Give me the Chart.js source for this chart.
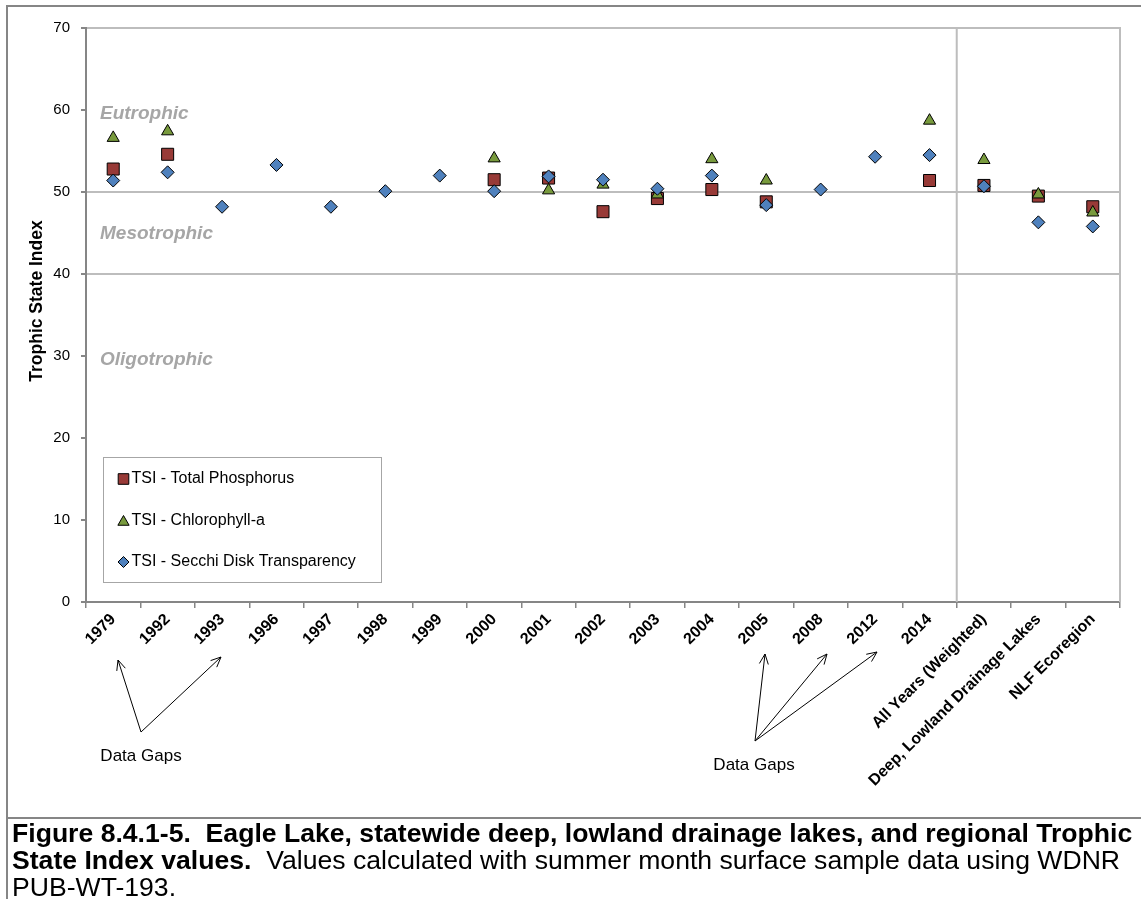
<!DOCTYPE html>
<html>
<head>
<meta charset="utf-8">
<script src="https://cdn.jsdelivr.net/npm/chart.js@4.4.1/dist/chart.umd.min.js"></script>
<style>
  html, body { margin: 0; padding: 0; background: #ffffff; }
  #page { position: relative; width: 1141px; height: 899px; overflow: hidden;
          font-family: "Liberation Sans", Arial, Helvetica, sans-serif; }
  #chart { position: absolute; left: 0; top: 0; }
  .rule { position: absolute; background: #868686; }
  #caption { position: absolute; left: 12px; top: 820px; width: 1129px;
             font-size: 26.6px; line-height: 27px; color: #000; white-space: pre; }
</style>
</head>
<body>
<div id="page">
  <canvas id="chart" width="1141" height="818"></canvas>
  <div class="rule" style="left:6px; top:5px; width:1135px; height:2px;"></div>
  <div class="rule" style="left:6px; top:5px; width:2px; height:894px;"></div>
  <div class="rule" style="left:6px; top:817px; width:1135px; height:2px;"></div>
  <div id="caption"><b>Figure 8.4.1-5.  Eagle Lake, statewide deep, lowland drainage lakes, and regional Trophic</b>
<b>State Index values.</b>  Values calculated with summer month surface sample data using WDNR
PUB-WT-193.</div>
</div>
<script>
// Sampling years plus the three comparison groups
const categories = ['1979', '1992', '1993', '1996', '1997', '1998', '1999', '2000', '2001',
  '2002', '2003', '2004', '2005', '2008', '2012', '2014',
  'All Years (Weighted)', 'Deep, Lowland Drainage Lakes', 'NLF Ecoregion'];

// Trophic State Index values per category (null = not sampled)
const tsiPhosphorus = [52.8, 54.6, null, null, null, null, null, 51.5, 51.7,
  47.6, 49.2, 50.3, 48.8, null, null, 51.4, 50.8, 49.5, 48.2];
const tsiChlorophyll = [56.6, 57.4, null, null, null, null, null, 54.1, 50.2,
  50.9, 49.7, 54.0, 51.4, null, null, 58.7, 53.9, 49.7, 47.5];
const tsiSecchi = [51.4, 52.4, 48.2, 53.3, 48.2, 50.1, 52.0, 50.1, 51.9,
  51.5, 50.4, 52.0, 48.4, 50.3, 54.3, 54.5, 50.7, 46.3, 45.8];

const seriesNames = ['TSI - Total Phosphorus', 'TSI - Chlorophyll-a', 'TSI - Secchi Disk Transparency'];
const yTickValues = [0, 10, 20, 30, 40, 50, 60, 70];
const trophicZones = ['Eutrophic', 'Mesotrophic', 'Oligotrophic'];
const yAxisTitle = 'Trophic State Index';
const gapNote = 'Data Gaps';

const FONT = '"Liberation Sans", Arial, Helvetica, sans-serif';
const COLORS = { tp: '#983A37', chl: '#789A3D', sd: '#4F81BD' };

// Plot borders, the year / summary separator, zone names and the axis title
const backdrop = {
  id: 'backdrop',
  beforeDatasetsDraw(chart) {
    const { ctx, chartArea: a, scales: { x } } = chart;
    const sepX = (x.getPixelForValue(15) + x.getPixelForValue(16)) / 2;
    ctx.save();
    ctx.strokeStyle = '#BDBDBD';
    ctx.lineWidth = 2;
    ctx.beginPath();
    ctx.moveTo(sepX, a.top); ctx.lineTo(sepX, a.bottom);
    ctx.moveTo(a.right, a.top - 1); ctx.lineTo(a.right, a.bottom);
    ctx.stroke();

    ctx.font = 'italic bold 19px ' + FONT;
    ctx.fillStyle = '#A6A6A6';
    ctx.textAlign = 'left';
    ctx.textBaseline = 'alphabetic';
    const ys = [119, 239, 365];
    trophicZones.forEach((t, i) => ctx.fillText(t, a.left + 14, ys[i]));

    ctx.translate(37, 301);
    ctx.rotate(-Math.PI / 2);
    ctx.font = 'bold 17.5px ' + FONT;
    ctx.fillStyle = '#000';
    ctx.textAlign = 'center';
    ctx.textBaseline = 'middle';
    ctx.fillText(yAxisTitle, 0, 0);
    ctx.restore();
  }
};

function arrow(ctx, x0, y0, x1, y1) {
  const ang = Math.atan2(y1 - y0, x1 - x0);
  const h = 11, spread = 0.42;
  ctx.beginPath();
  ctx.moveTo(x0, y0); ctx.lineTo(x1, y1);
  ctx.moveTo(x1 - h * Math.cos(ang - spread), y1 - h * Math.sin(ang - spread));
  ctx.lineTo(x1, y1);
  ctx.lineTo(x1 - h * Math.cos(ang + spread), y1 - h * Math.sin(ang + spread));
  ctx.stroke();
}

// Boxed legend inside the plot and the data-gap call-outs below the axis
const notes = {
  id: 'notes',
  afterDraw(chart) {
    const { ctx, chartArea: a } = chart;
    ctx.save();
    const bx = a.left + 17.5, by = 457.5, bw = 278, bh = 125;
    ctx.strokeStyle = '#A6A6A6';
    ctx.lineWidth = 1;
    ctx.strokeRect(bx, by, bw, bh);
    const styles = ['rect', 'triangle', 'rectRot'];
    const radii = [7.5, 6.5, 5.5];
    const fills = [COLORS.tp, COLORS.chl, COLORS.sd];
    const rowY = [479, 521, 562];
    ctx.font = '16px ' + FONT;
    ctx.textBaseline = 'middle';
    ctx.textAlign = 'left';
    seriesNames.forEach((name, i) => {
      ctx.fillStyle = fills[i];
      ctx.strokeStyle = '#000';
      ctx.lineWidth = 1;
      Chart.helpers.drawPoint(ctx, { pointStyle: styles[i], radius: radii[i], borderWidth: 1, rotation: 0 },
        bx + 20, rowY[i] + (i === 1 ? 1 : 0));
      ctx.fillStyle = '#000';
      ctx.fillText(name, bx + 28, rowY[i]);
    });

    ctx.strokeStyle = '#000';
    ctx.lineWidth = 1;
    arrow(ctx, 141, 732, 118, 660);
    arrow(ctx, 141, 732, 221, 657);
    arrow(ctx, 755, 741, 765, 654);
    arrow(ctx, 755, 741, 827, 654);
    arrow(ctx, 755, 741, 877, 652);
    ctx.font = '17px ' + FONT;
    ctx.fillStyle = '#000';
    ctx.textAlign = 'center';
    ctx.textBaseline = 'middle';
    ctx.fillText(gapNote, 141, 756);
    ctx.fillText(gapNote, 754, 765);
    ctx.restore();
  }
};

const pointDataset = (label, data, style, color, radius, order) => ({
  label, data, order,
  showLine: false,
  pointStyle: style,
  pointRadius: radius,
  pointHoverRadius: radius,
  pointBackgroundColor: color,
  pointBorderColor: '#000',
  pointBorderWidth: 1,
  backgroundColor: color,
  borderColor: '#000'
});

new Chart(document.getElementById('chart'), {
  type: 'line',
  data: {
    labels: categories,
    datasets: [
      pointDataset(seriesNames[0], tsiPhosphorus, 'rect', COLORS.tp, 8.5, 3),
      pointDataset(seriesNames[1], tsiChlorophyll, 'triangle', COLORS.chl, 7, 2),
      pointDataset(seriesNames[2], tsiSecchi, 'rectRot', COLORS.sd, 6.5, 1)
    ]
  },
  options: {
    responsive: false,
    animation: false,
    devicePixelRatio: 1,
    layout: { padding: { left: 0, top: 28, right: 21, bottom: 0 } },
    plugins: { legend: { display: false }, tooltip: { enabled: false } },
    scales: {
      x: {
        type: 'category',
        offset: true,
        afterFit(scale) { scale.height = 216; },
        grid: { offset: true, drawOnChartArea: false, color: '#868686', tickColor: '#868686', tickLength: 6, lineWidth: 1.5 },
        border: { color: '#868686', width: 2 },
        ticks: {
          autoSkip: false, maxRotation: 45, minRotation: 45, padding: 2,
          color: '#000', font: { family: FONT, size: 16, weight: 'bold' }
        }
      },
      y: {
        min: 0, max: 70,
        afterFit(scale) { scale.width = 86; },
        afterBuildTicks(scale) { scale.ticks = yTickValues.map(v => ({ value: v })); },
        grid: {
          color: (c) => (c.tick && (c.tick.value === 40 || c.tick.value === 50 || c.tick.value === 70)) ? '#BDBDBD' : 'rgba(0,0,0,0)',
          lineWidth: 2,
          tickColor: '#868686',
          tickLength: 5
        },
        border: { color: '#868686', width: 2 },
        ticks: { padding: 11, color: '#000', font: { family: FONT, size: 15 } }
      }
    }
  },
  plugins: [backdrop, notes]
});
</script>
</body>
</html>
